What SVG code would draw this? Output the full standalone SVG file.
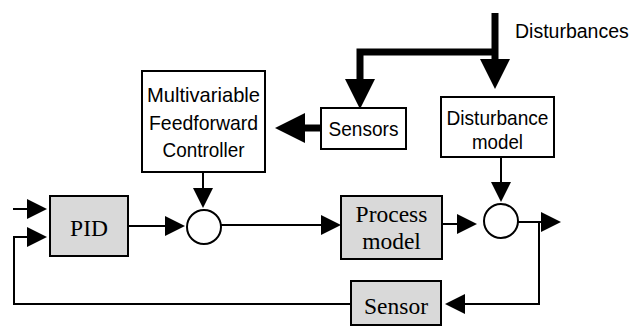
<svg xmlns="http://www.w3.org/2000/svg" width="633" height="327" viewBox="0 0 633 327">
<defs>
<style>
.box{fill:#fff;stroke:#000;stroke-width:2}
.gbox{fill:#d9d9d9;stroke:#000;stroke-width:2}
.sum{fill:#fff;stroke:#000;stroke-width:2}
.sans{font-family:"Liberation Sans",Arial,sans-serif;font-size:21px;fill:#000;text-anchor:middle}
.serif{font-family:"Liberation Serif","Times New Roman",serif;font-size:23.5px;fill:#000;text-anchor:middle}
.thin{fill:none;stroke:#000;stroke-width:2;marker-end:url(#ah)}
.thick{fill:none;stroke:#000;stroke-width:7;stroke-linejoin:miter;marker-end:url(#AH)}
</style>
<marker id="ah" markerUnits="userSpaceOnUse" markerWidth="20" markerHeight="20" refX="0" refY="10" orient="auto" overflow="visible">
<path d="M0,0 L20,10 L0,20 Z" fill="#000"/>
</marker>
<marker id="AH" markerUnits="userSpaceOnUse" markerWidth="30" markerHeight="30" refX="0" refY="15" orient="auto" overflow="visible">
<path d="M0,0 L30,15 L0,30 Z" fill="#000"/>
</marker>
</defs>

<g id="connectors">
<path class="thin" d="M13,209 H27"/>
<path class="thin" d="M351,304 H14 V237 H27"/>
<path class="thin" d="M539,222 V304 H465"/>
<path class="thin" d="M128,226 H165"/>
<path class="thin" d="M203,172 V188"/>
<path class="thin" d="M221,225 H321"/>
<path class="thin" d="M442,224 H457"/>
<path class="thin" d="M501,157 V182"/>
<path class="thin" d="M518,222 H541"/>
<path class="thick" d="M495,13 V59"/>
<path class="thick" d="M495,52 H360 V79"/>
<path class="thick" d="M321,128 H305"/>
</g>

<g id="disturbances-label">
<text class="sans" x="515" y="38" style="text-anchor:start;font-size:19.5px">Disturbances</text>
</g>

<g id="controller">
<rect class="box" x="142" y="71" width="123" height="101"/>
<text class="sans" x="203.5" y="102" textLength="113" lengthAdjust="spacingAndGlyphs">Multivariable</text>
<text class="sans" x="203.5" y="129.5" textLength="109" lengthAdjust="spacingAndGlyphs">Feedforward</text>
<text class="sans" x="203.5" y="157" textLength="82" lengthAdjust="spacingAndGlyphs">Controller</text>
</g>

<g id="sensors">
<rect class="box" x="321" y="108" width="85" height="41"/>
<text class="sans" x="363.5" y="136" textLength="70" lengthAdjust="spacingAndGlyphs">Sensors</text>
</g>

<g id="disturbance-model">
<rect class="box" x="441" y="97" width="113" height="60"/>
<text class="sans" x="497.5" y="125" textLength="102" lengthAdjust="spacingAndGlyphs">Disturbance</text>
<text class="sans" x="497.5" y="149" textLength="51" lengthAdjust="spacingAndGlyphs">model</text>
</g>

<g id="pid">
<rect class="gbox" x="50" y="196" width="78" height="60"/>
<text class="serif" x="89" y="236">PID</text>
</g>

<g id="sum1">
<circle class="sum" cx="204" cy="227" r="17"/>
</g>

<g id="process-model">
<rect class="gbox" x="341" y="196" width="101" height="63"/>
<text class="serif" x="391.5" y="222">Process</text>
<text class="serif" x="391.5" y="249">model</text>
</g>

<g id="sum2">
<circle class="sum" cx="501" cy="221" r="17"/>
</g>

<g id="sensor">
<rect class="gbox" x="351" y="281" width="90" height="44"/>
<text class="serif" x="396" y="314">Sensor</text>
</g>
</svg>
